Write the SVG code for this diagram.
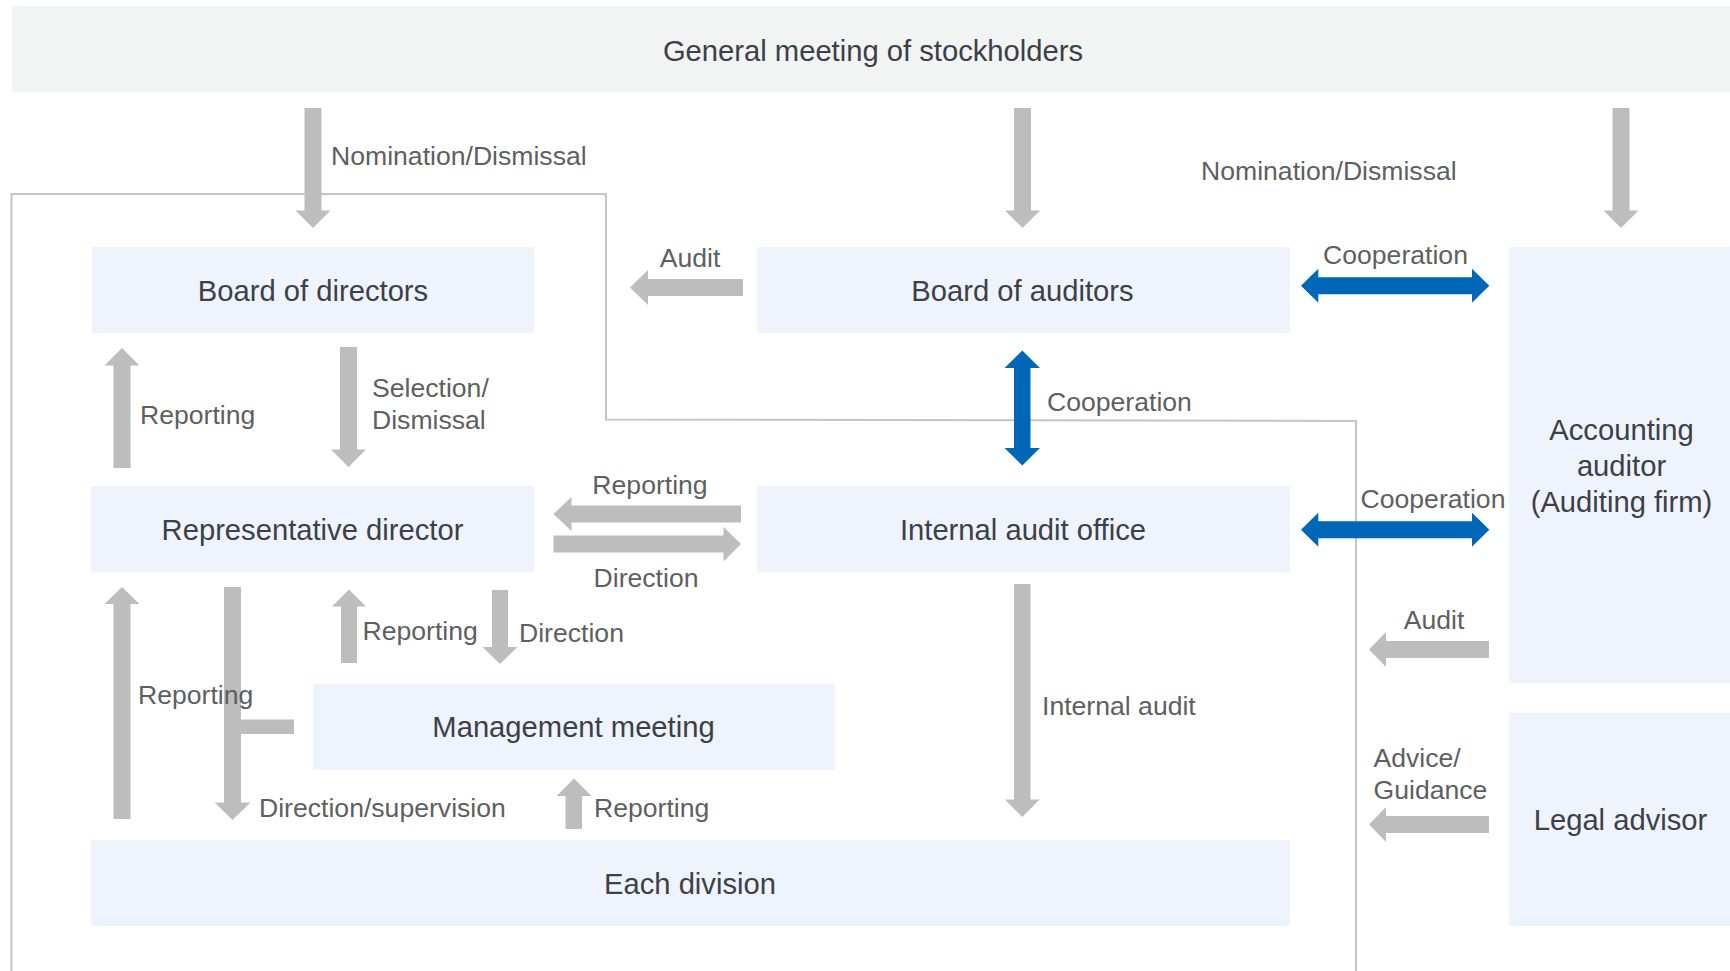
<svg xmlns="http://www.w3.org/2000/svg" width="1730" height="971" viewBox="0 0 1730 971">
  <style>
    .box { fill: #eff4fc; }
    .top { fill: #f2f3f3; }
    .node { font-family: "Liberation Sans", Arial, sans-serif; font-size: 29.2px; fill: #3c4048; text-anchor: middle; }
    .lbl { font-family: "Liberation Sans", Arial, sans-serif; font-size: 26.6px; fill: #5e5f60; }
    .mid { text-anchor: middle; }
    .grey { fill: #bcbdbc; }
    .blue { fill: #0066b8; }
    .frame { fill: none; stroke: #c4c5c5; stroke-width: 2; }
  </style>

  <!-- boundary line around the executive side -->
  <path class="frame" d="M 11.5,971 L 11.5,194 L 606,194 L 606,419.5 L 1356,421 L 1356,971"/>

  <g id="general-meeting">
    <rect class="top" x="12" y="6" width="1718" height="86"/>
    <text class="node" x="873" y="60.5">General meeting of stockholders</text>
  </g>

  <g id="board-of-directors">
    <rect class="box" x="92" y="247" width="442" height="86"/>
    <text class="node" x="313" y="300.5">Board of directors</text>
  </g>

  <g id="board-of-auditors">
    <rect class="box" x="757" y="247" width="533" height="86"/>
    <text class="node" x="1022.5" y="300.5">Board of auditors</text>
  </g>

  <g id="accounting-auditor">
    <rect class="box" x="1509" y="247" width="221" height="436"/>
    <text class="node" x="1621.5" y="440">Accounting</text>
    <text class="node" x="1621.5" y="476">auditor</text>
    <text class="node" x="1621.5" y="512">(Auditing firm)</text>
  </g>

  <g id="representative-director">
    <rect class="box" x="91" y="486" width="443" height="86.5"/>
    <text class="node" x="312.5" y="540">Representative director</text>
  </g>

  <g id="internal-audit-office">
    <rect class="box" x="757" y="486" width="533" height="86.5"/>
    <text class="node" x="1023" y="540">Internal audit office</text>
  </g>

  <g id="management-meeting">
    <rect class="box" x="313" y="684" width="522" height="86"/>
    <text class="node" x="573.5" y="737">Management meeting</text>
  </g>

  <g id="each-division">
    <rect class="box" x="91" y="840" width="1199" height="86"/>
    <text class="node" x="690" y="893.5">Each division</text>
  </g>

  <g id="legal-advisor">
    <rect class="box" x="1509" y="713" width="221" height="213"/>
    <text class="node" x="1620.5" y="830">Legal advisor</text>
  </g>

  <g id="connectors">
    <!-- nomination / dismissal from the general meeting -->
    <polygon class="grey" points="304.5,108 321.5,108 321.5,210.5 330.5,210.5 313,228 295.5,210.5 304.5,210.5"/>
    <polygon class="grey" points="1014,108 1031,108 1031,210.5 1040,210.5 1022.5,228 1005,210.5 1014,210.5"/>
    <polygon class="grey" points="1612.5,108 1629.5,108 1629.5,210.5 1638.5,210.5 1621,228 1603.5,210.5 1612.5,210.5"/>
    <text class="lbl" x="331" y="165">Nomination/Dismissal</text>
    <text class="lbl" x="1201" y="180">Nomination/Dismissal</text>

    <!-- audit by the board of auditors -->
    <polygon class="grey" points="743,279 743,296 648,296 648,305 630,287.5 648,270 648,279"/>
    <text class="lbl mid" x="690" y="267">Audit</text>

    <!-- board of directors / representative director -->
    <polygon class="grey" points="113.5,468 113.5,365.5 104.5,365.5 122,348 139.5,365.5 130.5,365.5 130.5,468"/>
    <text class="lbl" x="140" y="423.5">Reporting</text>
    <polygon class="grey" points="340,347 357,347 357,449.5 366,449.5 348.5,467 331,449.5 340,449.5"/>
    <text class="lbl" x="372" y="397">Selection/</text>
    <text class="lbl" x="372" y="428.5">Dismissal</text>

    <!-- representative director / internal audit office -->
    <polygon class="grey" points="741,505.5 741,522.5 571.5,522.5 571.5,531 553.5,514 571.5,497 571.5,505.5"/>
    <text class="lbl mid" x="650" y="493.5">Reporting</text>
    <polygon class="grey" points="553.5,535.5 723.5,535.5 723.5,527 741,544 723.5,561.5 723.5,552.5 553.5,552.5"/>
    <text class="lbl mid" x="646" y="587">Direction</text>

    <!-- representative director / each division -->
    <polygon class="grey" points="113.5,819 113.5,604 104.5,604 122,587 139.5,604 130.5,604 130.5,819"/>
    <polygon class="grey" points="224,587 241,587 241,719.5 294,719.5 294,734 241,734 241,802.5 250.5,802.5 232.5,820 214.5,802.5 224,802.5"/>
    <text class="lbl" x="138" y="704">Reporting</text>
    <text class="lbl" x="259" y="817">Direction/supervision</text>

    <!-- representative director / management meeting -->
    <polygon class="grey" points="341,663 341,606.5 332,606.5 349,589.5 366,606.5 357,606.5 357,663"/>
    <text class="lbl" x="362.5" y="640">Reporting</text>
    <polygon class="grey" points="492,590 508,590 508,647 517.5,647 500,664 482.5,647 492,647"/>
    <text class="lbl" x="519" y="641.5">Direction</text>

    <!-- each division reporting to the management meeting -->
    <polygon class="grey" points="565.5,829 565.5,796 556.5,796 574,778.5 591.5,796 582,796 582,829"/>
    <text class="lbl" x="594" y="817">Reporting</text>

    <!-- internal audit -->
    <polygon class="grey" points="1014,584 1030.5,584 1030.5,799.5 1039.5,799.5 1022.3,817 1005,799.5 1014,799.5"/>
    <text class="lbl" x="1042" y="715">Internal audit</text>

    <!-- accounting auditor / legal advisor -->
    <polygon class="grey" points="1489,641 1489,658 1386,658 1386,667 1369,649.5 1386,632 1386,641"/>
    <text class="lbl mid" x="1434" y="628.5">Audit</text>
    <polygon class="grey" points="1489,816 1489,833 1386,833 1386,842 1369,824.5 1386,807 1386,816"/>
    <text class="lbl" x="1373.5" y="767">Advice/</text>
    <text class="lbl" x="1373.5" y="798.5">Guidance</text>

    <!-- cooperation -->
    <polygon class="blue" points="1014,368 1014,448 1004.5,448 1022.3,465.5 1040,448 1030.5,448 1030.5,368 1040,368 1022.3,350.5 1004.5,368"/>
    <text class="lbl" x="1047" y="411">Cooperation</text>
    <polygon class="blue" points="1301,285.7 1318.3,268.7 1318.3,277.3 1472,277.3 1472,268.7 1489.3,285.7 1472,302.7 1472,294.3 1318.3,294.3 1318.3,302.7"/>
    <text class="lbl mid" x="1395.5" y="264">Cooperation</text>
    <polygon class="blue" points="1301,529.7 1318.3,512.7 1318.3,521.3 1472,521.3 1472,512.7 1489.3,529.7 1472,546.7 1472,538.3 1318.3,538.3 1318.3,546.7"/>
    <text class="lbl mid" x="1433" y="508">Cooperation</text>
  </g>
</svg>
